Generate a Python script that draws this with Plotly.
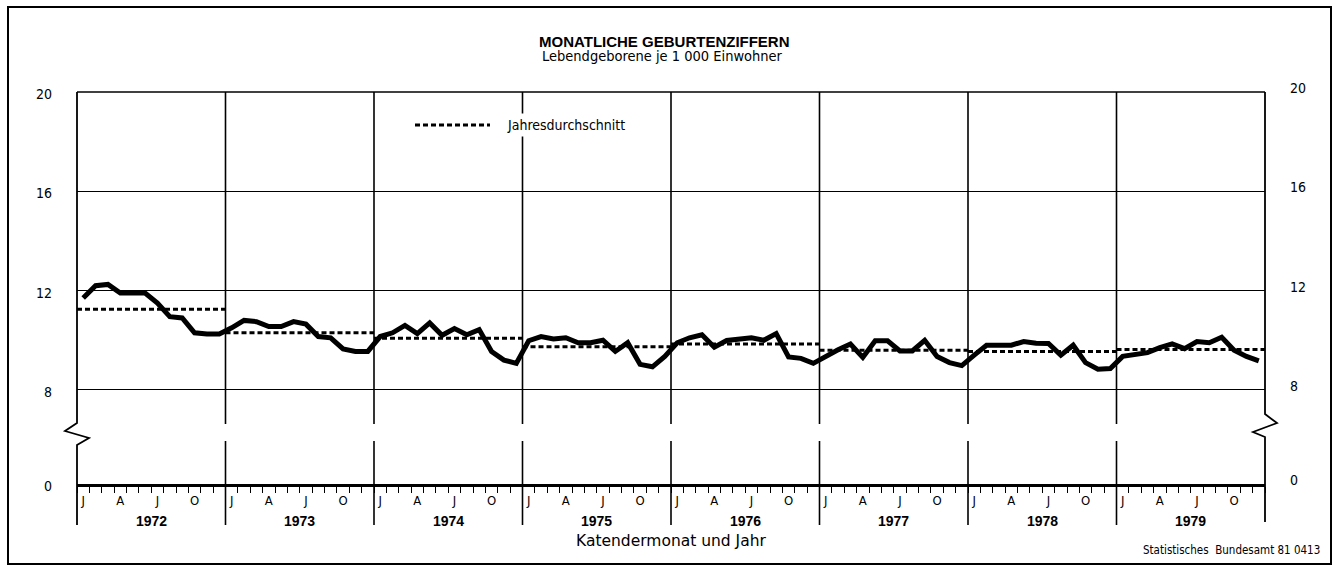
import plotly.graph_objects as go

# ---------------- data ----------------
years = [1972, 1973, 1974, 1975, 1976, 1977, 1978, 1979]
month_letters = ["J", "A", "J", "O"]          # Januar, April, Juli, Oktober
letter_month_index = [0, 3, 6, 9]

rate_1972 = [11.70, 12.20, 12.25, 11.90, 11.90, 11.90, 11.50, 10.95, 10.90, 10.30, 10.25, 10.25]
rate_1973 = [10.50, 10.80, 10.75, 10.55, 10.55, 10.75, 10.65, 10.15, 10.10, 9.65, 9.55, 9.55]
rate_1974 = [10.15, 10.30, 10.60, 10.27, 10.70, 10.20, 10.47, 10.22, 10.43, 9.55, 9.20, 9.07]
rate_1975 = [9.98, 10.15, 10.05, 10.10, 9.90, 9.90, 10.00, 9.55, 9.90, 9.03, 8.93, 9.35]
rate_1976 = [9.90, 10.10, 10.22, 9.72, 9.99, 10.07, 10.10, 10.00, 10.27, 9.33, 9.27, 9.07]
rate_1977 = [9.35, 9.62, 9.85, 9.31, 9.98, 9.98, 9.57, 9.57, 10.00, 9.35, 9.10, 8.98]
rate_1978 = [9.40, 9.80, 9.80, 9.80, 9.95, 9.88, 9.87, 9.40, 9.80, 9.10, 8.83, 8.86]
rate_1979 = [9.35, 9.40, 9.50, 9.70, 9.85, 9.66, 9.95, 9.90, 10.12, 9.60, 9.35, 9.17]

annual_avg = [11.25, 10.30, 10.08, 9.74, 9.85, 9.60, 9.55, 9.63]

y_tick_vals = [8, 12, 16, 20]
y_tick_text = ["8", "12", "16", "20"]
y_base_value = 4.21        # bottom of the broken axis, labelled "0"
y_base_text = "0"

title_text = "MONATLICHE GEBURTENZIFFERN"
subtitle_text = "Lebendgeborene je 1 000 Einwohner"
legend_text = "Jahresdurchschnitt"
x_title_text = "Katendermonat und Jahr"
source_text = "Statistisches  Bundesamt 81 0413"

# ---------------- derived ----------------
monthly = rate_1972 + rate_1973 + rate_1974 + rate_1975 + rate_1976 + rate_1977 + rate_1978 + rate_1979
n_months = len(monthly)
x_month = [i + 0.5 for i in range(n_months)]

avg_x, avg_y = [], []
for k, v in enumerate(annual_avg):
    avg_x += [12 * k, 12 * (k + 1), None]
    avg_y += [v, v, None]

label_x, label_t = [], []
for k in range(len(years)):
    for m, t in zip(letter_month_index, month_letters):
        label_x.append(12 * k + m + 0.5)
        label_t.append(t)

FONT = "Liberation Sans Narrow, DejaVu Sans Condensed, Liberation Sans, Arial, sans-serif"
FONT_W = "Liberation Sans, Arial, sans-serif"

fig = go.Figure()
fig.add_trace(go.Scatter(x=x_month, y=monthly, mode="lines",
                         line=dict(color="black", width=5), showlegend=False, yaxis="y"))
fig.add_trace(go.Scatter(x=avg_x, y=avg_y, mode="lines", name=legend_text,
                         line=dict(color="black", width=3, dash="5px,3px"),
                         showlegend=False, yaxis="y2"))

# ---------------- geometry helpers (paper coords) ----------------
L, R, T, B = 77, 75, 92, 82
W, H = 1340 - L - R, 566 - T - B
def px_x(px):
    return (px - L) / W
def px_y(py):
    return (566 - B - py) / H

shapes = []
# year boundary lines with a gap at the axis break
for k in range(1, len(years)):
    for y0, y1 in [(px_y(525), px_y(441)), (px_y(424), 1)]:
        shapes.append(dict(type="line", xref="x", yref="paper", x0=12 * k, x1=12 * k,
                           y0=y0, y1=y1, line=dict(color="black", width=1.6)))
# left axis with zigzag break
lp = [(77, 92), (77, 423), (65, 431), (89, 438), (77, 445), (77, 525)]
shapes.append(dict(type="path", xref="paper", yref="paper",
                   path="M " + " L ".join(f"{px_x(a):.5f},{px_y(b):.5f}" for a, b in lp),
                   line=dict(color="black", width=1.8)))
rp = [(1265, 92), (1265, 414), (1277, 423), (1253, 432), (1265, 437), (1265, 522)]
shapes.append(dict(type="path", xref="paper", yref="paper",
                   path="M " + " L ".join(f"{px_x(a):.5f},{px_y(b):.5f}" for a, b in rp),
                   line=dict(color="black", width=1.8)))
# top border line
shapes.append(dict(type="line", xref="paper", yref="paper", x0=0, x1=1, y0=1, y1=1,
                   line=dict(color="black", width=1.6)))
# outer frame
shapes.append(dict(type="rect", xref="paper", yref="paper",
                   x0=px_x(8), x1=px_x(1331), y0=px_y(564), y1=px_y(7),
                   line=dict(color="black", width=2)))
# legend sample
shapes.append(dict(type="line", xref="paper", yref="paper",
                   x0=px_x(415), x1=px_x(490), y0=px_y(125), y1=px_y(125),
                   line=dict(color="black", width=3, dash="5px,3px")))

annotations = []
def ann(text, x, y, size, family=FONT, xanchor="center", xref="paper", **kw):
    d = dict(text=text, xref=xref, yref="paper", x=x, y=y, xanchor=xanchor,
             yanchor="middle", showarrow=False,
             font=dict(family=family, size=size, color="black"))
    d.update(kw)
    annotations.append(d)

ann(f"<b>{title_text}</b>", px_x(664), px_y(42), 15, FONT_W)
ann(subtitle_text, px_x(662), px_y(56), 14.5)
ann(legend_text, px_x(503), px_y(125), 14, xanchor="left", bgcolor="white", borderpad=3)
for k, yr in enumerate(years):
    ann(f"<b>{yr}</b>", 12 * k + 6, px_y(521), 14, FONT_W, xref="x")
ann(x_title_text, px_x(671), px_y(541), 15.5, "DejaVu Sans, sans-serif")
ann(source_text, px_x(1322), px_y(550), 11.5, xanchor="right")

yvals = [y_base_value] + y_tick_vals
ytext = [y_base_text] + y_tick_text

fig.update_layout(
    width=1340, height=566,
    margin=dict(l=L, r=R, t=T, b=B),
    paper_bgcolor="white", plot_bgcolor="white",
    showlegend=False,
    shapes=shapes, annotations=annotations,
    xaxis=dict(range=[0, n_months], showgrid=False, zeroline=False,
               showline=True, linecolor="black", linewidth=2.5,
               tickmode="array", tickvals=label_x, ticktext=label_t, ticks="",
               ticklabelstandoff=3,
               tickfont=dict(family=FONT, size=13, color="black"),
               minor=dict(tick0=0, dtick=1, ticks="outside", ticklen=6, tickwidth=1.3,
                          tickcolor="black", showgrid=False)),
    yaxis=dict(range=[y_base_value, 20], tickmode="array", tickvals=yvals, ticktext=ytext,
               showgrid=True, gridcolor="black", gridwidth=1.3, zeroline=False,
               showline=False, ticks="", ticklabelstandoff=24, ticklabelshift=2,
               tickfont=dict(family=FONT, size=14, color="black")),
    yaxis2=dict(range=[y_base_value, 20], overlaying="y", side="right", tickmode="array",
                tickvals=yvals, ticktext=ytext, showgrid=False, zeroline=False,
                showline=False, ticks="", ticklabelstandoff=24, ticklabelshift=-4,
                tickfont=dict(family=FONT, size=14, color="black")),
)

fig.write_html("out.html", config={"displayModeBar": False},
               post_script="document.body.style.margin='0px';")
